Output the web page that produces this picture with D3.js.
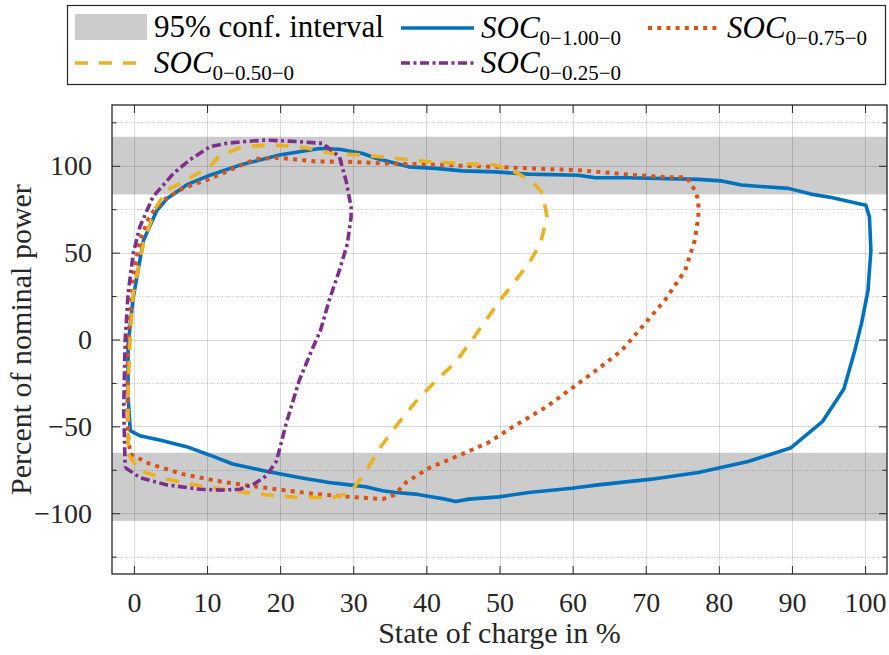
<!DOCTYPE html>
<html>
<head>
<meta charset="utf-8">
<script src="https://cdn.jsdelivr.net/npm/d3@7"></script>
<style>
  html, body { margin: 0; padding: 0; background: #fff; }
  svg { display: block; font-family: "Liberation Serif", "DejaVu Serif", serif; }
</style>
</head>
<body>
<svg id="chart" width="889" height="655"></svg>
<script>
// SOC (%) vs. power (% of nominal) for the four cycling profiles, traced around each loop
const soc100 = [
  [-0.5,-52.5],[-0.8,-33],[-0.8,-4],[-0.5,9],[-0.1,24],[1.3,57],[3.1,74],[4.5,81],[7.2,89],
  [10.4,94.6],[14.5,100.4],[19.9,106.2],[25.4,110],[28.1,109.5],[31.3,107.1],[33.1,104.3],
  [37.6,99.4],[41.3,98.5],[44.9,97.1],[49.5,96.5],[54,95.2],[60.8,94.6],[63.1,93.1],[67.6,93.1],
  [77.2,92.2],[80.4,91.3],[83.1,88.9],[86.3,87.9],[89.5,87],[92.6,83.7],[95.4,81.8],[100.1,77.3],
  [100.6,70.6],[100.8,51.4],[100.4,28.3],[99.5,9],[98.6,-6.3],[97.1,-28.5],[94.2,-47.1],
  [89.8,-62.5],[84,-70.2],[77.2,-76.6],[70.8,-80.4],[63.5,-83.7],[59.9,-85.6],[54,-88.1],
  [49.9,-90.6],[45.8,-91.9],[44,-93.3],[42.6,-91.9],[40.4,-90.4],[38.5,-89],[35.8,-88.1],
  [34,-87.1],[31.7,-84.8],[29.5,-83.7],[26.7,-82.3],[22.6,-79.4],[18.1,-75.8],[13.5,-71.7],
  [10.4,-66.6],[7.2,-61.7],[3.5,-57.9],[0.8,-55.4],[-0.5,-52.5]
];
const soc075 = [
  [-0.5,-66],[2.2,-71.7],[6.7,-77.5],[11.3,-81.4],[15.8,-84.2],[20.4,-86.7],[24.9,-89],
  [29.5,-90.6],[34,-91.9],[35.6,-89.5],[37.3,-82],[40.5,-73.7],[44.9,-66],[48.5,-59.3],
  [51.7,-50.6],[56.3,-39.1],[60.4,-26.5],[63.5,-16.9],[66.7,-6.3],[68.1,0.4],[72.6,22.5],
  [75.4,39.8],[76.7,57.1],[77.2,70.6],[77.2,80.2],[76.7,86],[75.6,93.3],[72.6,93.5],
  [68.1,94.8],[63.5,96.5],[60.8,97.5],[54,98.5],[49.5,99.4],[44.9,100],[40.4,100.8],
  [34,101.4],[29.5,102.3],[24.9,102.5],[19.9,104.6],[16.7,104],[13.5,98.2],[10.4,92.5],
  [6.7,87],[4,80.2],[2.2,71.6],[0.8,57],[-0.1,36],[-0.5,12.9],[-0.8,-0.6],[-0.9,-30],
  [-0.8,-55],[-0.5,-66]
];
const soc050 = [
  [-0.8,-66],[0.8,-75.6],[4.5,-80.4],[9,-84.2],[13.5,-87.1],[18.1,-89.4],[22.6,-91],
  [27.2,-91],[29.5,-88.5],[31.5,-77.5],[33.7,-62.1],[36,-49],[38.5,-36],[41.3,-23.7],
  [44,-13.1],[46.5,1.3],[50.4,24.4],[54,43.7],[55.6,55.2],[56.5,70.6],[55.9,84.1],
  [54.9,88.9],[52.6,95.6],[49.5,100.4],[44.9,101.4],[40.4,102.3],[35.8,104.3],[31.3,106.2],
  [27.2,107.1],[22.6,111],[18.8,112],[14.9,111],[11.7,106],[10.4,99.4],[6.7,90.8],
  [4.5,86],[2.9,75.4],[1.3,55.2],[-0.1,26.4],[-0.5,3.3],[-0.8,-30],[-0.8,-66]
];
const soc025 = [
  [-1.2,-73.7],[0.8,-79.5],[4.5,-83.7],[9,-86.2],[12,-86.7],[14.5,-86.2],[16.5,-83],
  [18.1,-78.5],[19.5,-70],[20.8,-48.7],[22.6,-23.7],[24.5,-4.4],[25.5,5],[26.7,22.5],
  [28.1,39.8],[29.2,55.2],[29.7,70.5],[29.7,76.3],[29,91.7],[28.1,105.2],[26.7,110],
  [25.8,112.9],[22.6,113.9],[18.1,114.8],[14.9,113.9],[12.6,112.9],[10.4,111],[7.6,103.3],
  [5.4,95.6],[2.6,82.1],[0.8,64.8],[-0.1,49.4],[-0.8,26.4],[-1.2,-0.6],[-1.4,-40],[-1.2,-73.7]
];

// 95% confidence bands of the charge/discharge power
const confBands = [[83.5, 116.7], [-104.4, -65.2]];

const xTicks = [0, 10, 20, 30, 40, 50, 60, 70, 80, 90, 100];
const yTicks = [-100, -50, 0, 50, 100];
const yMinorTicks = [-125, -75, -25, 25, 75, 125];

const seriesNames = ["1.00", "0.75", "0.50", "0.25"];

const series = [
  { key: "1.00", data: soc100, color: "#0072BD", dash: null, width: 3.6, cap: "round" },
  { key: "0.75", data: soc075, color: "#D95319", dash: "4,5.2", width: 4, cap: "butt" },
  { key: "0.50", data: soc050, color: "#EDB120", dash: "13,11", width: 3.6, cap: "butt" },
  { key: "0.25", data: soc025, color: "#7E2F8E", dash: "9,3.5,3,3.5", width: 3.6, cap: "butt" }
];

const svg = d3.select("#chart");
const L = 112, R = 887, T = 105, B = 574;

const x = d3.scaleLinear().domain([-3, 103]).range([L, R]);
const y = d3.scaleLinear().domain([-135, 135]).range([B, T]);

const plot = svg.append("g");
plot.append("clipPath").attr("id", "clip")
  .append("rect").attr("x", L).attr("y", T).attr("width", R - L).attr("height", B - T);

// confidence bands
plot.selectAll("rect.band").data(confBands).join("rect")
  .attr("class", "band")
  .attr("x", L).attr("width", R - L)
  .attr("y", d => y(d[1])).attr("height", d => y(d[0]) - y(d[1]))
  .attr("fill", "#cccccc");

// grid
const grid = plot.append("g").attr("stroke", "rgba(0,0,0,0.14)").attr("stroke-width", 1);
grid.selectAll("line.gx").data(xTicks).join("line")
  .attr("x1", d => Math.round(x(d)) + 0.5).attr("x2", d => Math.round(x(d)) + 0.5)
  .attr("y1", T).attr("y2", B);
grid.selectAll("line.gy").data(yTicks).join("line")
  .attr("y1", d => Math.round(y(d)) + 0.5).attr("y2", d => Math.round(y(d)) + 0.5)
  .attr("x1", L).attr("x2", R);
grid.selectAll("line.gm").data(yMinorTicks).join("line")
  .attr("y1", d => Math.round(y(d)) + 0.5).attr("y2", d => Math.round(y(d)) + 0.5)
  .attr("x1", L).attr("x2", R)
  .attr("stroke", "rgba(0,0,0,0.22)").attr("stroke-dasharray", "1,1.5");

// loops
const line = d3.line().x(d => x(d[0])).y(d => y(d[1])).curve(d3.curveLinear);
plot.append("g").attr("clip-path", "url(#clip)")
  .selectAll("path.loop").data(series).join("path")
  .attr("class", "loop")
  .attr("d", d => line(d.data))
  .attr("fill", "none")
  .attr("stroke", d => d.color)
  .attr("stroke-width", d => d.width)
  .attr("stroke-linejoin", "round")
  .attr("stroke-linecap", d => d.cap)
  .attr("stroke-dasharray", d => d.dash);

// axes (box with inward ticks on all four sides)
const axisColor = "#262626";
const tickFont = 28;
const axB = svg.append("g").attr("transform", `translate(0,${B})`)
  .call(d3.axisBottom(x).tickValues(xTicks).tickSizeInner(-8).tickSizeOuter(0).tickPadding(18));
const axT = svg.append("g").attr("transform", `translate(0,${T})`)
  .call(d3.axisTop(x).tickValues(xTicks).tickSizeInner(-8).tickSizeOuter(0).tickFormat(""));
const axL = svg.append("g").attr("transform", `translate(${L},0)`)
  .call(d3.axisLeft(y).tickValues(yTicks).tickSizeInner(-8).tickSizeOuter(0).tickPadding(20));
const axR = svg.append("g").attr("transform", `translate(${R},0)`)
  .call(d3.axisRight(y).tickValues(yTicks).tickSizeInner(-8).tickSizeOuter(0).tickFormat(""));
const axLm = svg.append("g").attr("transform", `translate(${L},0)`)
  .call(d3.axisLeft(y).tickValues(yMinorTicks).tickSizeInner(-4.5).tickSizeOuter(0).tickFormat(""));
const axRm = svg.append("g").attr("transform", `translate(${R},0)`)
  .call(d3.axisRight(y).tickValues(yMinorTicks).tickSizeInner(-4.5).tickSizeOuter(0).tickFormat(""));

[axB, axT, axL, axR, axLm, axRm].forEach(a => {
  a.select(".domain").remove();
  a.selectAll("line").attr("stroke", axisColor).attr("stroke-width", 1);
  a.selectAll("text").attr("fill", "#262626")
    .style("font-family", "Liberation Serif, serif").style("font-size", tickFont + "px");
});
svg.append("rect").attr("x", L).attr("y", T).attr("width", R - L).attr("height", B - T)
  .attr("fill", "none").attr("stroke", axisColor).attr("stroke-width", 1.3);

// axis titles
svg.append("text").attr("x", (L + R) / 2).attr("y", 643)
  .attr("text-anchor", "middle").attr("fill", "#262626").style("font-size", "30px")
  .text("State of charge in %");
svg.append("text").attr("transform", `translate(31,${(T + B) / 2}) rotate(-90)`)
  .attr("text-anchor", "middle").attr("fill", "#262626").style("font-size", "30px")
  .text("Percent of nominal power");

// legend
const lg = svg.append("g");
lg.append("rect").attr("x", 67.5).attr("y", 5.5).attr("width", 818).attr("height", 79)
  .attr("fill", "#fff").attr("stroke", axisColor).attr("stroke-width", 1.2);

lg.append("rect").attr("x", 75).attr("y", 14).attr("width", 72).attr("height", 26).attr("fill", "#cccccc");
lg.append("text").attr("x", 154).attr("y", 37).style("font-size", "31px").attr("fill", "#000")
  .text("95% conf. interval");

const legendPos = [
  { x1: 401, x2: 474, y: 28, tx: 481 },
  { x1: 648, x2: 718, y: 28, tx: 727 },
  { x1: 75, x2: 145, y: 63, tx: 154 },
  { x1: 401, x2: 474, y: 63, tx: 481 }
];
series.forEach((s, i) => {
  const p = legendPos[i];
  lg.append("line").attr("x1", p.x1).attr("x2", p.x2).attr("y1", p.y).attr("y2", p.y)
    .attr("stroke", s.color).attr("stroke-width", s.width)
    .attr("stroke-dasharray", s.dash).attr("stroke-linecap", "butt");
  const t = lg.append("text").attr("x", p.tx).attr("y", p.y + 10).attr("fill", "#000");
  t.append("tspan").style("font-style", "italic").style("font-size", "31px").text("SOC");
  t.append("tspan").attr("dy", 7).style("font-size", "21px").text("0\u2212" + seriesNames[i] + "\u22120");
});
</script>
</body>
</html>
